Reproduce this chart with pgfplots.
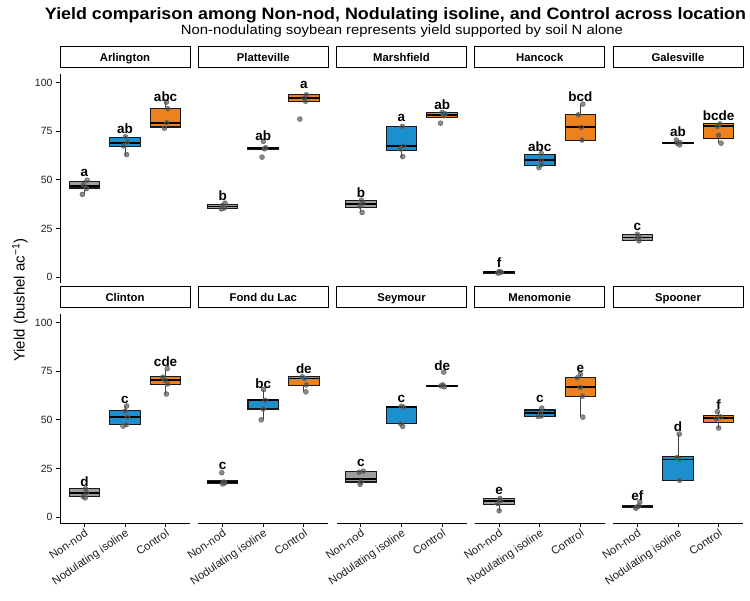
\documentclass[border=0pt]{standalone}
\usepackage{fontspec}
\setmainfont{Liberation Sans}
\usepackage{pgfplots}
\pgfplotsset{compat=1.18}
\usepgfplotslibrary{statistics}

\definecolor{nonnod}{RGB}{158,158,158}
\definecolor{nodul}{RGB}{30,143,206}
\definecolor{ctrl}{RGB}{236,130,30}
\definecolor{txt}{RGB}{30,30,30}

\pgfplotsset{
  facet/.style={
    scale only axis, width=130pt, height=209pt, anchor=north west,
    xmin=0.4, xmax=3.6, ymin=-3.1, ymax=104.5,
    axis lines*=left, axis line style={line width=0.9pt},
    tick align=outside, major tick length=4pt,
    every tick/.style={black, line width=0.9pt},
    xtick={1,2,3}, ytick={0,25,50,75,100},
    xticklabels={Non-nod,Nodulating isoline,Control},
    tick label style={font=\fontsize{10.5}{12}\selectfont, text=txt},
    x tick label style={font=\fontsize{11.3}{13}\selectfont, rotate=34, anchor=north east, inner sep=1pt},
    /pgf/number format/assume math mode=true,
    clip=false,
    title style={at={(rel axis cs:0.5,1)}, anchor=south, yshift=0pt,
      draw=black, line width=0.9pt, minimum width=130pt, minimum height=21pt,
      text height=8.2pt, text depth=0pt,
      inner sep=0pt, font=\bfseries\fontsize{11.3}{13}\selectfont},
    boxplot/draw direction=y,
    boxplot/box extend=0.75, boxplot/whisker extend=0,
    boxplot/every median/.style={line width=1.9pt, black},
    boxplot/every whisker/.style={line width=1pt, black!75},
    boxplot/every box/.style={line width=1.1pt, draw=black!90},
  },
  pts/.style={only marks, mark=*, mark size=2.4pt,
    mark options={draw=black!60, fill=black!75, fill opacity=0.6, line width=0.6pt}},
  lbl/.style={draw=none, mark=none, nodes near coords, point meta=explicit symbolic,
    nodes near coords align=center,
    every node near coord/.append style={font=\bfseries\fontsize{13.5}{15}\selectfont, inner sep=0pt, anchor=center}},
}

% position, lower whisker, lower quartile, median, upper quartile, upper whisker, colour, points
\newcommand{\grp}[8]{%
  \addplot[fill=#7, boxplot prepared={draw direction=y, draw position=#1, lower whisker=#2,
    lower quartile=#3, median=#4, upper quartile=#5, upper whisker=#6}] coordinates {};
  \addplot[pts] coordinates {#8};
}

\begin{document}
\begin{tikzpicture}
\path[use as bounding box] (0,0) rectangle (750pt,-601pt);

\node[anchor=base] at (395.5pt,-19.3pt) {\resizebox{701pt}{\height}{\bfseries\fontsize{16.5}{18}\selectfont Yield comparison among Non-nod, Nodulating isoline, and Control across location}};
\node[anchor=base] at (402pt,-34.5pt) {\resizebox{442pt}{\height}{\fontsize{13.5}{15}\selectfont Non-nodulating soybean represents yield supported by soil N alone}};
\node[rotate=90] at (20pt,-300pt) {\fontsize{15}{17}\selectfont Yield (bushel ac\textsuperscript{−1})};

% ---- top row ----
\begin{axis}[facet, at={(60pt,-74pt)}, title={Arlington}, hide x axis]
  \grp{1}{42.5}{45.8}{47}{49}{50}{nonnod}{(0.95,42.5)(1.05,45.5)(0.98,47.5)(1.07,49.8)}
  \grp{2}{63}{67.2}{68.9}{72}{72.5}{nodul}{(2.04,63)(1.96,67.5)(2.06,69.5)(2.01,72.2)}
  \grp{3}{76.6}{77.2}{79.5}{86.6}{90}{ctrl}{(2.97,76.6)(3.03,79.5)(3.05,86.6)(3.02,90)}
  \addplot[lbl] coordinates {(1,53.6)[a] (2,76.3)[ab] (3,93)[abc]};
\end{axis}

\begin{axis}[facet, at={(198.25pt,-74pt)}, title={Platteville}, hide axis]
  \grp{1}{35}{35.3}{36.3}{37.4}{38}{nonnod}{(0.97,35)(1.04,35.5)(1.0,36.8)(1.06,38)}
  \grp{2}{65.5}{65.6}{66.2}{66.5}{66.7}{nodul}{(1.97,61.7)(2.03,66)(2.06,66.5)(2.0,69.8)}
  \grp{3}{90.4}{90.4}{92}{93.8}{94}{ctrl}{(2.9,81.3)(3.04,90.5)(3.0,92)(3.06,93.8)}
  \addplot[lbl] coordinates {(1,41.9)[b] (2,72.7)[ab] (3,99)[a]};
\end{axis}

\begin{axis}[facet, at={(336.5pt,-74pt)}, title={Marshfield}, hide axis]
  \grp{1}{33.2}{35.9}{37.5}{39.2}{39.5}{nonnod}{(1.03,33.2)(0.98,36.5)(1.05,38)(1.01,39.5)}
  \grp{2}{62}{65.1}{67.2}{77.5}{77.5}{nodul}{(2.03,62)(1.97,66)(2.05,67.5)(2.02,77.5)}
  \grp{3}{82.3}{82.3}{83.5}{84.7}{85}{ctrl}{(2.96,79.2)(3.04,83)(3.07,84)(3.0,84.7)}
  \addplot[lbl] coordinates {(1,43.5)[b] (2,81.8)[a] (3,88.7)[ab]};
\end{axis}

\begin{axis}[facet, at={(474.75pt,-74pt)}, title={Hancock}, hide axis]
  \grp{1}{2}{2}{2.4}{2.6}{2.8}{nonnod}{(0.97,2)(1.02,2.3)(1.05,2.5)(1.0,2.8)}
  \grp{2}{56.3}{57.2}{60}{62.9}{63.5}{nodul}{(1.98,56.3)(2.05,58)(2.03,60)(2.04,63.5)}
  \grp{3}{70.3}{70.3}{77}{83.5}{89}{ctrl}{(3.04,70.5)(3.02,77)(2.95,83.5)(3.06,89)}
  \addplot[lbl] coordinates {(1,7.4)[f] (2,67.2)[abc] (3,92.6)[bcd]};
\end{axis}

\begin{axis}[facet, at={(613pt,-74pt)}, title={Galesville}, hide axis]
  \grp{1}{18.6}{18.8}{20.3}{22}{22}{nonnod}{(1.04,18.6)(0.98,19.8)(1.05,20.5)(1.0,22)}
  \grp{2}{68}{68.5}{68.9}{69.2}{70}{nodul}{(2.04,68)(1.98,68.8)(2.05,69.2)(1.96,70.5)}
  \grp{3}{68.9}{71.1}{77.5}{79.2}{79.2}{ctrl}{(3.06,68.9)(3.0,73)(2.97,77.5)(3.03,78.8)}
  \addplot[lbl] coordinates {(1,25.9)[c] (2,74.9)[ab] (3,83)[bcde]};
\end{axis}

% ---- bottom row ----
\begin{axis}[facet, at={(60pt,-314pt)}, title={Clinton}]
  \grp{1}{9.8}{10.5}{12.2}{14.8}{14.8}{nonnod}{(1.02,9.8)(0.97,10.5)(1.05,12.5)(1.03,14.5)}
  \grp{2}{46.5}{47.4}{51.4}{54.8}{57.1}{nodul}{(1.95,46.8)(2.03,47.5)(2.06,51.4)(2.0,54.5)(2.04,57.1)}
  \grp{3}{63.3}{68.2}{70.4}{72.4}{76.4}{ctrl}{(3.02,63.3)(3.05,68.5)(2.98,70.4)(2.93,72)(3.04,76.4)}
  \addplot[lbl] coordinates {(1,18)[d] (2,60.2)[c] (3,79.8)[cde]};
\end{axis}

\begin{axis}[facet, at={(198.25pt,-314pt)}, title={Fond du Lac}, hide y axis]
  \grp{1}{17}{17.2}{17.8}{18.9}{18.9}{nonnod}{(1.0,17)(1.05,17.5)(1.03,18)(0.98,22.8)}
  \grp{2}{50}{55.6}{60}{60.7}{65.6}{nodul}{(1.95,50)(2.0,55.6)(2.05,60)(2.01,65.6)}
  \grp{3}{64.4}{67.9}{71.3}{72.1}{72.5}{ctrl}{(3.05,64.4)(3.06,68)(3.02,71.3)(2.96,72.2)}
  \addplot[lbl] coordinates {(1,26.2)[c] (2,68.7)[bc] (3,76.4)[de]};
\end{axis}

\begin{axis}[facet, at={(336.5pt,-314pt)}, title={Seymour}, hide y axis]
  \grp{1}{16.8}{18}{19.7}{23.6}{23.6}{nonnod}{(0.98,16.8)(1.0,18)(0.96,23)(1.06,23.6)}
  \grp{2}{46.6}{48}{56.5}{57.1}{57.1}{nodul}{(2.03,46.6)(1.98,48)(2.05,56.5)(2.0,57)}
  \grp{3}{67}{67.2}{67.5}{67.8}{68}{ctrl}{(3.05,67)(2.97,67.5)(3.02,68)(3.04,74.6)}
  \addplot[lbl] coordinates {(1,27.6)[c] (2,61)[c] (3,78)[de]};
\end{axis}

\begin{axis}[facet, at={(474.75pt,-314pt)}, title={Menomonie}, hide y axis]
  \grp{1}{3.2}{6.6}{8}{9.7}{9.7}{nonnod}{(1.0,3.2)(0.96,7)(1.04,8.5)(1.02,9.5)}
  \grp{2}{51.4}{51.8}{53.4}{55.1}{56}{nodul}{(1.96,51.8)(2.04,52)(2.02,53.4)(2.05,56)}
  \grp{3}{51.4}{62.2}{66.7}{71.6}{73.5}{ctrl}{(3.06,51.4)(3.05,62.2)(3.0,66.7)(2.92,71.6)(3.0,73.5)}
  \addplot[lbl] coordinates {(1,13.4)[e] (2,61)[c] (3,76.4)[e]};
\end{axis}

\begin{axis}[facet, at={(613pt,-314pt)}, title={Spooner}, hide y axis]
  \grp{1}{4.5}{5}{5.4}{5.8}{6}{nonnod}{(0.96,4.5)(1.0,5.2)(1.04,5.8)(1.06,7.8)}
  \grp{2}{18.9}{18.9}{29.6}{31.3}{42.7}{nodul}{(2.04,18.9)(2.04,29.6)(1.97,30.5)(2.03,42.7)}
  \grp{3}{45.8}{48.8}{50.9}{52.2}{54.2}{ctrl}{(3.0,45.8)(2.94,50.5)(3.05,51.5)(2.97,54.2)}
  \addplot[lbl] coordinates {(1,10.9)[ef] (2,46.6)[d] (3,57.7)[f]};
\end{axis}
\end{tikzpicture}
\end{document}
